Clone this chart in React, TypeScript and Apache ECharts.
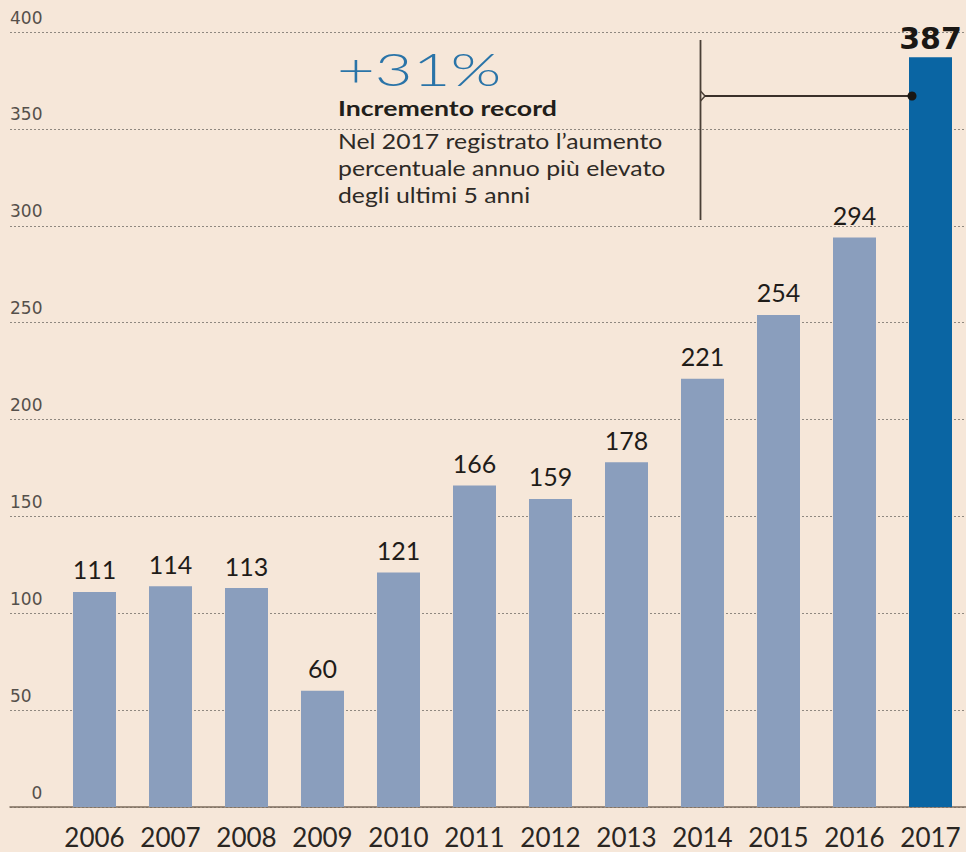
import React, { useEffect, useRef } from "react";
import * as echarts from "echarts";

const years = ["2006", "2007", "2008", "2009", "2010", "2011", "2012", "2013", "2014", "2015", "2016", "2017"];
const values = [111, 114, 113, 60, 121, 166, 159, 178, 221, 254, 294, 387];
const yTicks = { min: 0, max: 400, interval: 50 };
const headline = "+31%";
const subtitle = "Incremento record";
const note = "Nel 2017 registrato l\u2019aumento\npercentuale annuo pi\u00f9 elevato\ndegli ultimi 5 anni";

const BG = "#f6e7d9";
const BAR = "#8a9ebd";
const BAR_HL = "#0a65a3";
const FONT = "Lato, 'Open Sans', sans-serif";
const TICK_FONT = "'DejaVu Sans', sans-serif";
const W = 980;

export default function App() {
  const ref = useRef<HTMLDivElement>(null);
  useEffect(() => {
    document.body.style.margin = "0";
    document.body.style.overflow = "hidden";
    document.body.style.background = BG;
    const chart = echarts.init(ref.current!, null, { renderer: "svg" });
    const last = values.length - 1;
    chart.setOption({
      animation: false,
      backgroundColor: BG,
      textStyle: { fontFamily: FONT },
      grid: [
        { left: 10, right: W - 966, top: 32, bottom: 45 },
        { left: 56.5, width: 912, top: 32, bottom: 45 },
      ],
      xAxis: [
        {
          gridIndex: 0,
          type: "value",
          min: 0,
          max: 1,
          axisLine: { show: true, onZero: false, lineStyle: { color: "#7d6d5e", width: 1.5 } },
          axisTick: { show: false },
          axisLabel: { show: false },
          splitLine: { show: false },
        },
        {
          gridIndex: 1,
          type: "category",
          data: years,
          axisLine: { show: false },
          axisTick: { show: false },
          axisLabel: { interval: 0, hideOverlap: false, color: "#2a2622", fontSize: 26, margin: 17, fontFamily: FONT },
        },
      ],
      yAxis: [
        {
          gridIndex: 0,
          type: "value",
          min: yTicks.min,
          max: yTicks.max,
          interval: yTicks.interval,
          axisLine: { show: false },
          axisTick: { show: false },
          axisLabel: {
            inside: true,
            margin: 0,
            verticalAlign: "bottom",
            padding: [0, 0, 6, 0],
            color: "#55504b",
            fontSize: 17,
            fontFamily: TICK_FONT,
            showMaxLabel: false,
            formatter: (v: number) => (v === 0 ? "    0" : String(v)),
          },
          splitLine: { show: true, lineStyle: { color: "#8f8880", type: [2, 2], width: 1.2 } },
        },
        {
          gridIndex: 1,
          type: "value",
          min: yTicks.min,
          max: yTicks.max,
          interval: yTicks.interval,
          show: false,
          splitLine: { show: false },
        },
      ],
      series: [
        {
          type: "bar",
          xAxisIndex: 1,
          yAxisIndex: 1,
          barWidth: 43,
          data: values.map((v, i) =>
            i === last
              ? {
                  value: v,
                  itemStyle: { color: BAR_HL },
                  label: { fontSize: 30, fontWeight: "bold", fontFamily: TICK_FONT, distance: 4, color: "#1a1714" },
                }
              : v
          ),
          itemStyle: { color: BAR },
          label: {
            show: true,
            position: "top",
            distance: 10,
            fontSize: 25,
            color: "#1f1c19",
            fontFamily: FONT,
          },
        },
      ],
      graphic: [
        {
          type: "text",
          x: 10,
          y: 9,
          z: 100,
          style: { text: String(yTicks.max), fontSize: 17, fontFamily: TICK_FONT, fill: "#55504b", align: "left", verticalAlign: "top" },
        },
        {
          type: "text",
          x: 337,
          y: 46,
          scaleX: 1.45,
          z: 100,
          style: { text: headline, fontSize: 45, fontWeight: 300, fontFamily: FONT, fill: "#2a74a8", align: "left", verticalAlign: "top" },
        },
        {
          type: "text",
          x: 338,
          y: 97,
          scaleX: 1.27,
          z: 100,
          style: { text: subtitle, fontSize: 21, fontWeight: 700, fontFamily: FONT, fill: "#221e1a", align: "left", verticalAlign: "top" },
        },
        {
          type: "text",
          x: 338,
          y: 127,
          scaleX: 1.18,
          z: 100,
          style: { text: note, fontSize: 21, lineHeight: 27, fontFamily: FONT, fill: "#2e2a26", align: "left", verticalAlign: "top" },
        },
        {
          type: "line",
          z: 100,
          shape: { x1: 700.5, y1: 40, x2: 700.5, y2: 220 },
          style: { stroke: "#4a3f36", lineWidth: 1.8 },
        },
        {
          type: "polyline",
          z: 100,
          shape: { points: [[700.5, 91], [705, 96], [700.5, 101]] },
          style: { stroke: "#4a3f36", lineWidth: 1.5, fill: "none" },
        },
        {
          type: "line",
          z: 100,
          shape: { x1: 705, y1: 96, x2: 912, y2: 96 },
          style: { stroke: "#3a302a", lineWidth: 1.8 },
        },
        {
          type: "circle",
          z: 100,
          shape: { cx: 912, cy: 96, r: 4.5 },
          style: { fill: "#1a1714" },
        },
      ],
    });
    return () => chart.dispose();
  }, []);
  return <div ref={ref} style={{ width: W, height: 852 }} />;
}
